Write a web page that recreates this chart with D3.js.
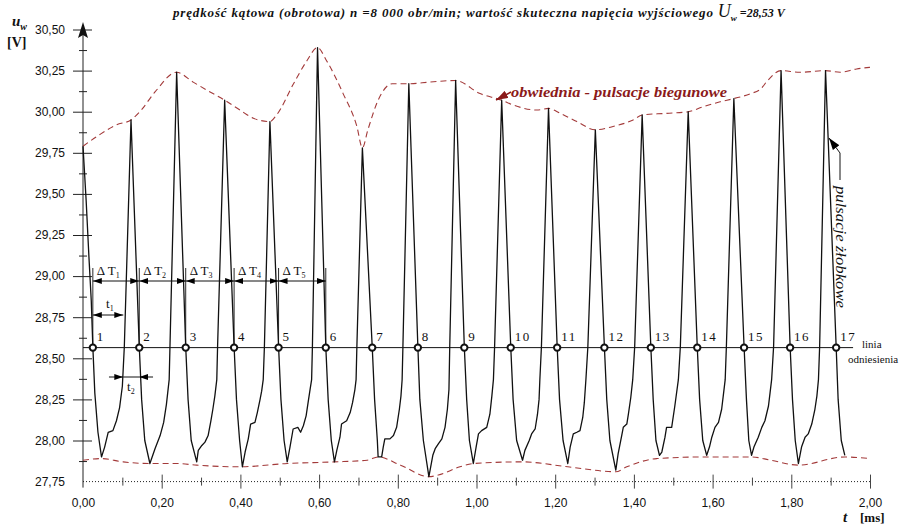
<!DOCTYPE html>
<html>
<head>
<meta charset="utf-8">
<script src="https://cdn.jsdelivr.net/npm/d3@7"></script>
<style>
  body { margin: 0; background: #fff; }
  text { fill: #111; }
</style>
</head>
<body>
<div id="vis-container"></div>
<script>
// ticks
const yTickValues = [27.75, 28.00, 28.25, 28.50, 28.75, 29.00, 29.25, 29.50, 29.75, 30.00, 30.25, 30.50];
const yMinorTicks = [27.875, 28.125, 28.375, 28.625, 28.875, 29.125, 29.375, 29.625, 29.875, 30.125, 30.375];
const xTickValues = [0, 0.2, 0.4, 0.6, 0.8, 1.0, 1.2, 1.4, 1.6, 1.8, 2.0];
const xMinorTicks = [0.1, 0.3, 0.5, 0.7, 0.9, 1.1, 1.3, 1.5, 1.7, 1.9];

// measured voltage u_w [V] vs time t [ms]
const waveform = [
  [0.000,29.79],[0.008,29.46],[0.015,29.12],[0.021,28.85],[0.025,28.57],[0.030,28.29],[0.038,28.05],[0.047,27.90],
  [0.055,27.96],[0.064,28.05],[0.076,28.06],[0.085,28.12],[0.093,28.20],[0.100,28.33],[0.105,28.57],[0.122,29.95],
  [0.143,28.57],[0.149,28.25],[0.157,28.00],[0.170,27.86],
  [0.183,27.95],[0.196,28.03],[0.205,28.11],[0.212,28.22],[0.219,28.37],[0.221,28.57],[0.238,30.24],
  [0.261,28.57],[0.267,28.25],[0.275,28.00],[0.289,27.87],
  [0.293,27.94],[0.302,27.97],[0.310,27.99],[0.318,28.03],[0.325,28.12],[0.330,28.19],[0.335,28.27],[0.340,28.37],[0.342,28.57],[0.360,30.07],
  [0.384,28.57],[0.390,28.25],[0.398,28.00],[0.405,27.84],
  [0.412,27.93],[0.420,28.01],[0.426,28.10],[0.437,28.11],[0.443,28.17],[0.450,28.25],[0.454,28.30],[0.458,28.37],[0.461,28.57],[0.475,29.94],
  [0.497,28.57],[0.503,28.25],[0.511,28.00],[0.519,27.87],
  [0.526,27.96],[0.534,28.07],[0.546,28.08],[0.553,28.05],[0.560,28.09],[0.567,28.15],[0.572,28.23],[0.577,28.31],[0.581,28.37],[0.583,28.57],[0.596,30.39],
  [0.617,28.57],[0.623,28.25],[0.631,28.00],[0.639,27.87],
  [0.645,27.94],[0.653,28.02],[0.657,28.10],[0.670,28.12],[0.679,28.17],[0.685,28.23],[0.691,28.31],[0.694,28.37],[0.696,28.57],[0.710,29.78],
  [0.735,28.57],[0.741,28.25],[0.748,28.00],[0.750,27.90],[0.759,27.90],
  [0.763,27.96],[0.767,28.01],[0.780,28.01],[0.789,28.03],[0.797,28.08],[0.804,28.19],[0.808,28.27],[0.811,28.37],[0.813,28.57],[0.828,30.17],
  [0.851,28.57],[0.856,28.25],[0.865,28.00],[0.879,27.78],
  [0.889,27.91],[0.895,27.95],[0.903,27.98],[0.912,28.01],[0.920,28.08],[0.926,28.19],[0.930,28.31],[0.932,28.57],[0.947,30.19],
  [0.969,28.57],[0.975,28.25],[0.982,28.00],[0.992,27.86],
  [0.999,27.96],[1.005,28.04],[1.013,28.06],[1.026,28.08],[1.034,28.16],[1.039,28.27],[1.043,28.37],[1.046,28.57],[1.064,30.07],
  [1.087,28.57],[1.093,28.25],[1.102,28.00],[1.117,27.88],
  [1.123,27.94],[1.134,28.00],[1.140,28.04],[1.149,28.07],[1.155,28.16],[1.159,28.25],[1.161,28.37],[1.165,28.57],[1.183,30.02],
  [1.205,28.57],[1.211,28.25],[1.220,28.00],[1.232,27.86],
  [1.238,27.96],[1.246,28.04],[1.255,28.05],[1.263,28.06],[1.270,28.14],[1.274,28.23],[1.278,28.37],[1.283,28.57],[1.302,29.89],
  [1.325,28.57],[1.331,28.25],[1.339,28.00],[1.354,27.82],
  [1.360,27.92],[1.369,28.03],[1.373,28.08],[1.382,28.10],[1.386,28.16],[1.392,28.26],[1.397,28.37],[1.402,28.57],[1.421,29.98],
  [1.443,28.57],[1.449,28.25],[1.456,28.00],[1.465,27.91],
  [1.471,27.93],[1.479,28.02],[1.483,28.08],[1.496,28.08],[1.504,28.21],[1.513,28.37],[1.518,28.57],[1.538,30.00],
  [1.561,28.57],[1.567,28.25],[1.575,28.00],[1.585,27.91],
  [1.592,27.96],[1.598,28.02],[1.606,28.08],[1.615,28.11],[1.623,28.19],[1.627,28.27],[1.632,28.37],[1.635,28.57],[1.654,30.08],
  [1.680,28.57],[1.686,28.25],[1.692,28.00],[1.699,27.91],
  [1.705,27.96],[1.716,28.02],[1.725,28.08],[1.733,28.12],[1.742,28.21],[1.746,28.29],[1.750,28.37],[1.755,28.57],[1.774,30.25],
  [1.797,28.57],[1.803,28.25],[1.810,28.00],[1.818,27.86],
  [1.826,27.96],[1.835,28.02],[1.843,28.04],[1.852,28.10],[1.860,28.19],[1.865,28.27],[1.869,28.37],[1.872,28.57],[1.887,30.25],
  [1.914,28.57],[1.919,28.25],[1.927,28.00],[1.936,27.91]
];

// envelope (pole pulsations)
const envelopeTop = [
  [0.000,29.79],[0.042,29.86],[0.085,29.92],[0.122,29.95],[0.148,30.01],[0.183,30.12],[0.238,30.24],
  [0.280,30.18],[0.323,30.12],[0.360,30.07],[0.399,30.01],[0.433,29.96],[0.475,29.94],
  [0.492,29.98],[0.535,30.17],[0.569,30.31],[0.596,30.39],[0.619,30.31],[0.661,30.11],[0.696,29.91],[0.710,29.78],
  [0.724,29.89],[0.750,30.07],[0.786,30.17],[0.828,30.17],[0.881,30.18],[0.947,30.19],
  [1.009,30.11],[1.064,30.07],[1.094,30.04],[1.153,30.01],[1.183,30.02],[1.213,29.99],[1.255,29.94],[1.302,29.89],
  [1.347,29.91],[1.398,29.95],[1.421,29.98],[1.483,29.99],[1.538,30.00],[1.576,30.03],[1.619,30.06],[1.654,30.08],
  [1.697,30.11],[1.723,30.14],[1.740,30.19],[1.774,30.25],[1.822,30.24],[1.887,30.25],[1.924,30.24],[1.966,30.26],[2.000,30.27]
];
const envelopeBottom = [
  [0.000,27.88],[0.047,27.89],[0.102,27.87],[0.170,27.86],[0.238,27.86],[0.289,27.85],[0.398,27.84],
  [0.519,27.86],[0.639,27.87],[0.722,27.88],[0.750,27.90],[0.807,27.85],[0.879,27.78],[0.903,27.79],
  [0.958,27.84],[0.992,27.86],[1.117,27.87],[1.232,27.84],[1.354,27.81],[1.382,27.84],[1.458,27.89],
  [1.585,27.90],[1.699,27.90],[1.748,27.88],[1.818,27.85],[1.936,27.90],[2.000,27.89]
];

// reference line and its crossing points 1..17
const refLevel = 28.565;
const refLineEnd = 1.957;
const crossings = [0.025, 0.143, 0.261, 0.384, 0.497, 0.617, 0.735, 0.851, 0.969, 1.087,
                   1.205, 1.325, 1.443, 1.561, 1.680, 1.797, 1.914];
const riseCrossing = 0.105;
const t2End = 0.178;
const t2Start = 0.066;

const margin = { top: 29.5, right: 49, bottom: 45.4, left: 83 };
const width = 919;
const height = 527;

const svg = d3.select("#vis-container")
  .append("svg")
    .attr("width", width)
    .attr("height", height)
    .style("font-family", "'Liberation Serif', serif");

const x = d3.scaleLinear().domain([0, 2]).range([margin.left, width - margin.right]);
const y = d3.scaleLinear().domain([27.75, 30.5]).range([height - margin.bottom, margin.top]);
const comma = d => d.toFixed(2).replace('.', ',');

// arrow markers
const defs = svg.append("defs");
function addMarker(id, color, w, h) {
  defs.append("marker")
    .attr("id", id)
    .attr("markerUnits", "userSpaceOnUse")
    .attr("viewBox", `0 0 ${w} ${h}`)
    .attr("markerWidth", w).attr("markerHeight", h)
    .attr("refX", w).attr("refY", h / 2)
    .attr("orient", "auto-start-reverse")
    .append("path")
      .attr("d", `M0,0L${w},${h / 2}L0,${h}Z`)
      .attr("fill", color);
}
addMarker("arr", "#000", 9, 6);
addMarker("arrBig", "#000", 12, 8);
addMarker("arrRed", "#8b1a1a", 12, 8);

// Y axis
const yAxis = svg.append("g")
  .attr("transform", `translate(${margin.left}, 0)`)
  .call(d3.axisLeft(y).tickValues(yTickValues).tickFormat(comma).tickSize(10).tickPadding(8));
yAxis.select(".domain").remove();
yAxis.selectAll(".tick line").attr("x1", 9).attr("stroke", "#222")
  .filter(d => d === 27.75).remove();
yAxis.selectAll(".tick text")
  .style("font-family", "'Liberation Sans', Arial, sans-serif")
  .style("font-size", "12px").attr("fill", "#333");

const yMinor = svg.append("g")
  .attr("transform", `translate(${margin.left}, 0)`)
  .call(d3.axisLeft(y).tickValues(yMinorTicks).tickFormat("").tickSize(4));
yMinor.select(".domain").remove();
yMinor.selectAll(".tick line").attr("x1", 4).attr("stroke", "#222");

svg.append("line")
  .attr("x1", margin.left).attr("x2", margin.left)
  .attr("y1", 26).attr("y2", y(27.75) + 6)
  .attr("stroke", "#222");
svg.append("path")
  .attr("d", `M${margin.left},22L${margin.left - 5},38L${margin.left},35L${margin.left + 5},38Z`)
  .attr("fill", "#111");

// X axis (dotted)
svg.append("line")
  .attr("x1", x(0)).attr("x2", x(2))
  .attr("y1", y(27.75)).attr("y2", y(27.75))
  .attr("stroke", "#222").attr("stroke-dasharray", "1,2");

const xAxis = svg.append("g")
  .attr("transform", `translate(0, ${y(27.75)})`)
  .call(d3.axisBottom(x).tickValues(xTickValues).tickFormat(comma).tickSize(7).tickPadding(10));
xAxis.select(".domain").remove();
xAxis.selectAll(".tick line").attr("y1", -7).attr("stroke", "#444")
  .filter(d => d === 0).remove();
xAxis.selectAll(".tick text")
  .style("font-family", "'Liberation Sans', Arial, sans-serif")
  .style("font-size", "12px").attr("fill", "#333");

const xMinor = svg.append("g")
  .attr("transform", `translate(0, ${y(27.75)})`)
  .call(d3.axisBottom(x).tickValues(xMinorTicks).tickFormat("").tickSize(4));
xMinor.select(".domain").remove();
xMinor.selectAll(".tick line").attr("y1", -4).attr("stroke", "#444");

// axis titles
const uLabel = svg.append("text").attr("x", 12).attr("y", 26)
  .style("font-size", "15px").style("font-style", "italic").style("font-weight", "bold");
uLabel.append("tspan").text("u");
uLabel.append("tspan").attr("dy", 4).style("font-size", "10px").text("w");
svg.append("text").attr("x", 7).attr("y", 47)
  .style("font-size", "14px").style("font-weight", "bold").text("[V]");

svg.append("text").attr("x", 843).attr("y", 522)
  .style("font-size", "15px").style("font-style", "italic").style("font-weight", "bold").text("t");
svg.append("text").attr("x", 860).attr("y", 522)
  .style("font-size", "13px").style("font-weight", "bold").text("[ms]");

// title
const title = svg.append("text").attr("x", 173).attr("y", 17)
  .style("font-size", "13px").style("font-style", "italic").style("font-weight", "bold");
title.append("tspan")
  .attr("textLength", 544).attr("lengthAdjust", "spacing")
  .text("prędkość kątowa (obrotowa) n =8 000 obr/min; wartość skuteczna napięcia wyjściowego ");
title.append("tspan").style("font-size", "18px").style("font-weight", "normal").text("U");
title.append("tspan").attr("dy", 4).style("font-size", "9px").text("w");
title.append("tspan").attr("dy", -4).style("font-size", "12px").text(" =28,53 V");

// envelope
const envLine = d3.line().x(d => x(d[0])).y(d => y(d[1])).curve(d3.curveMonotoneX);
[envelopeTop, envelopeBottom].forEach(env => {
  svg.append("path")
    .attr("d", envLine(env))
    .attr("fill", "none")
    .attr("stroke", "#a33a3a")
    .attr("stroke-width", 1.1)
    .attr("stroke-dasharray", "6,4");
});

// waveform
svg.append("path")
  .datum(waveform)
  .attr("d", d3.line().x(d => x(d[0])).y(d => y(d[1])))
  .attr("fill", "none")
  .attr("stroke", "#111")
  .attr("stroke-width", 1.3)
  .attr("stroke-linejoin", "round");

// reference line
const yRef = y(refLevel);
svg.append("line")
  .attr("x1", x(0)).attr("x2", x(refLineEnd))
  .attr("y1", yRef).attr("y2", yRef)
  .attr("stroke", "#111");

svg.append("text").attr("x", 862).attr("y", 348).style("font-size", "11px").text("linia");
svg.append("text").attr("x", 848).attr("y", 363).style("font-size", "11px").text("odniesienia");

// delta T dimension lines
const yDT = 281;
for (let i = 0; i < 6; i++) {
  svg.append("line")
    .attr("x1", x(crossings[i])).attr("x2", x(crossings[i]))
    .attr("y1", 268).attr("y2", yRef)
    .attr("stroke", "#111").attr("stroke-width", 0.9);
}
for (let i = 0; i < 5; i++) {
  svg.append("line")
    .attr("x1", x(crossings[i])).attr("x2", x(crossings[i + 1]))
    .attr("y1", yDT).attr("y2", yDT)
    .attr("stroke", "#111")
    .attr("marker-start", "url(#arr)").attr("marker-end", "url(#arr)");
  const lab = svg.append("text")
    .attr("x", x(crossings[i]) + 4).attr("y", 275)
    .style("font-size", "13px");
  lab.append("tspan").text("Δ T");
  lab.append("tspan").attr("dy", 3).style("font-size", "8px").text(i + 1);
}

// t1 and t2
svg.append("line")
  .attr("x1", x(crossings[0])).attr("x2", x(riseCrossing) - 1)
  .attr("y1", 315).attr("y2", 315)
  .attr("stroke", "#111")
  .attr("marker-start", "url(#arr)").attr("marker-end", "url(#arr)");
const t1 = svg.append("text").attr("x", 106).attr("y", 308).style("font-size", "13px");
t1.append("tspan").text("t");
t1.append("tspan").attr("dy", 3).style("font-size", "8px").text("1");

svg.append("line")
  .attr("x1", x(t2Start)).attr("x2", x(riseCrossing) - 1)
  .attr("y1", 377).attr("y2", 377)
  .attr("stroke", "#111").attr("marker-end", "url(#arr)");
svg.append("line")
  .attr("x1", x(riseCrossing) - 1).attr("x2", x(crossings[1]))
  .attr("y1", 377).attr("y2", 377)
  .attr("stroke", "#111");
svg.append("line")
  .attr("x1", x(t2End)).attr("x2", x(crossings[1]))
  .attr("y1", 377).attr("y2", 377)
  .attr("stroke", "#111").attr("marker-end", "url(#arr)");
const t2 = svg.append("text").attr("x", 127).attr("y", 391).style("font-size", "13px");
t2.append("tspan").text("t");
t2.append("tspan").attr("dy", 3).style("font-size", "8px").text("2");

// crossing markers and numbers
svg.selectAll("circle.pt")
  .data(crossings)
  .enter()
    .append("circle")
    .attr("class", "pt")
    .attr("cx", d => x(d))
    .attr("cy", yRef)
    .attr("r", 3.2)
    .attr("fill", "#fff")
    .attr("stroke", "#111")
    .attr("stroke-width", 2);
svg.append("g").selectAll("text")
  .data(crossings)
  .enter()
    .append("text")
    .attr("x", d => x(d) + 4)
    .attr("y", 341)
    .style("font-size", "13px")
    .style("letter-spacing", "1.5px")
    .text((d, i) => i + 1);

// annotations
svg.append("line")
  .attr("x1", 511).attr("y1", 92).attr("x2", 496).attr("y2", 100)
  .attr("stroke", "#8b1a1a").attr("stroke-width", 1.5)
  .attr("marker-end", "url(#arrRed)");
svg.append("text").attr("x", 511).attr("y", 97)
  .attr("textLength", 216).attr("lengthAdjust", "spacingAndGlyphs")
  .style("font-size", "15px").style("font-style", "italic").style("font-weight", "bold")
  .style("fill", "#8b1a1a")
  .text("obwiednia - pulsacje biegunowe");

svg.append("path")
  .attr("d", "M840,180V153L829,138")
  .attr("fill", "none").attr("stroke", "#111")
  .attr("marker-end", "url(#arrBig)");
svg.append("text")
  .attr("transform", "translate(836,186) rotate(90)")
  .attr("textLength", 122).attr("lengthAdjust", "spacingAndGlyphs")
  .style("font-size", "15px").style("font-style", "italic")
  .text("pulsacje żłobkowe");
</script>
</body>
</html>
